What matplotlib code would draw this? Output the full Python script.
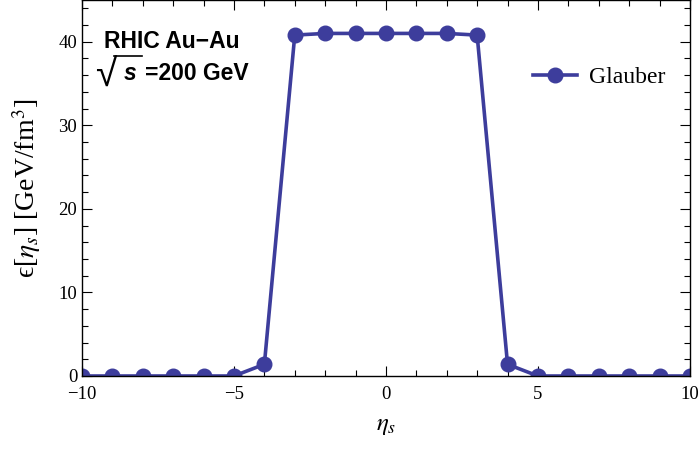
import numpy as np
import matplotlib as mpl
mpl.use("Agg")
import matplotlib.pyplot as plt
from matplotlib.ticker import MultipleLocator

# data
eta_s = [-10, -9, -8, -7, -6, -5, -4, -3, -2, -1, 0, 1, 2, 3, 4, 5, 6, 7, 8, 9, 10]
energy = [0, 0, 0, 0, 0, 0, 1.4, 40.8, 41.0, 41.0, 41.0, 41.0, 41.0, 40.8, 1.4, 0, 0, 0, 0, 0, 0]
series_label = "Glauber"

plt.rcParams['font.family'] = ['Liberation Serif', 'DejaVu Serif']
plt.rcParams['mathtext.fontset'] = 'stix'

color = "#3d3d9c"

fig = plt.figure(figsize=(6.99, 4.49), dpi=100)
ax = fig.add_axes([0.1173, 0.1626, 0.8697, 0.8374])

ax.plot(eta_s, energy, color=color, lw=2.6, marker="o", ms=10.5, label=series_label)

ax.set_xlim(-10, 10)
ax.set_ylim(0, 45)

ax.xaxis.set_major_locator(MultipleLocator(5))
ax.xaxis.set_minor_locator(MultipleLocator(1))
ax.yaxis.set_major_locator(MultipleLocator(10))
ax.yaxis.set_minor_locator(MultipleLocator(2))
ax.tick_params(which="both", direction="in", top=True, right=True, labelsize=13.5, width=0.8)
ax.tick_params(which="major", length=7)
ax.tick_params(which="minor", length=4)
ax.tick_params(axis="x", pad=7)

for sp in ax.spines.values():
    sp.set_linewidth(1.0)

ax.set_xlabel(r"$\eta_s$", fontsize=18, labelpad=9)
ax.set_ylabel("\u03f5[$\\eta_s$] [GeV/fm$^3$]", fontsize=20, labelpad=11)

# annotation block, upper left (sqrt drawn by hand: radical glyph + bar)
ax.text(0.037, 0.873, "RHIC Au\u2212Au", transform=ax.transAxes, family="Liberation Sans",
        fontweight="bold", fontsize=16.5, va="baseline")
ax.text(0.021, 0.768, "\u221a", transform=ax.transAxes, family=["Liberation Sans", "DejaVu Sans"],
        fontsize=28, va="baseline")
ax.plot([0.052, 0.099], [0.852, 0.852], transform=ax.transAxes, color="black", lw=1.2,
        clip_on=False)
ax.text(0.068, 0.787, "s", transform=ax.transAxes, family="Liberation Sans",
        fontweight="bold", style="italic", fontsize=16.5, va="baseline")
ax.text(0.103, 0.787, "=200 GeV", transform=ax.transAxes, family="Liberation Sans",
        fontweight="bold", fontsize=16.5, va="baseline")

ax.legend(loc="center right", bbox_to_anchor=(0.995, 0.795), frameon=False, fontsize=17,
          handlelength=1.9, handletextpad=0.5)

plt.savefig("out.png", dpi=100)
plt.close('all')
